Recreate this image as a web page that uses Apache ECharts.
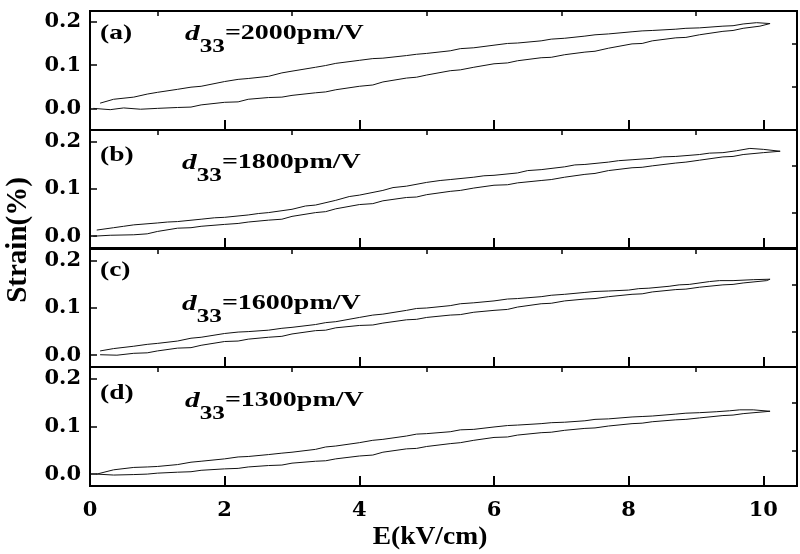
<!DOCTYPE html>
<html>
<head>
<meta charset="utf-8">
<script src="https://cdn.jsdelivr.net/npm/echarts@6/dist/echarts.min.js"></script>
<style>
  html, body { margin: 0; padding: 0; background: #fff; }
  #chart { width: 800px; height: 554px; }
</style>
</head>
<body>
<div id="chart"></div>
<script>
// strain loops, [E (kV/cm), strain (%)], lower branch then upper branch
const loopA = [
  [0.05,0.000],[0.3,-0.003],[0.5,0.001],[0.75,-0.002],[1.0,0.000],[1.3,0.002],[1.5,0.003],[1.65,0.008],[2.0,0.014],[2.2,0.015],
  [2.35,0.021],[2.65,0.025],[2.85,0.026],[3.0,0.030],[3.35,0.036],[3.5,0.038],[3.65,0.043],[4.0,0.051],[4.2,0.054],[4.35,0.061],
  [4.7,0.070],[4.85,0.072],[5.0,0.077],[5.35,0.087],[5.5,0.089],[5.7,0.095],[6.0,0.103],[6.2,0.105],[6.35,0.110],[6.7,0.117],
  [6.85,0.118],[7.05,0.124],[7.35,0.130],[7.5,0.132],[7.7,0.139],[8.05,0.149],[8.2,0.150],[8.35,0.156],[8.7,0.163],[8.85,0.164],
  [9.05,0.170],[9.4,0.178],[9.55,0.180],[9.7,0.185],[9.95,0.190],[10.1,0.196],
  [9.9,0.198],[9.7,0.195],[9.55,0.191],[9.4,0.190],[9.05,0.186],[8.85,0.185],[8.7,0.183],[8.35,0.180],[8.2,0.179],[8.05,0.177],
  [7.7,0.172],[7.5,0.170],[7.35,0.167],[7.05,0.162],[6.85,0.160],[6.7,0.156],[6.35,0.151],[6.2,0.150],[6.0,0.146],[5.7,0.140],
  [5.5,0.138],[5.35,0.133],[5.0,0.127],[4.85,0.125],[4.7,0.122],[4.35,0.116],[4.2,0.115],[4.0,0.111],[3.65,0.104],[3.5,0.099],
  [3.35,0.095],[3.0,0.086],[2.85,0.082],[2.65,0.074],[2.35,0.069],[2.2,0.067],[2.0,0.062],[1.65,0.051],[1.5,0.049],[1.3,0.044],
  [1.0,0.037],[0.85,0.033],[0.65,0.026],[0.35,0.021],[0.15,0.012]
];
const loopB = [
  [0.05,0.000],[0.3,0.002],[0.65,0.003],[0.85,0.005],[1.0,0.010],[1.3,0.017],[1.5,0.018],[1.65,0.021],[2.0,0.025],[2.2,0.027],
  [2.35,0.030],[2.65,0.034],[2.85,0.036],[3.0,0.042],[3.35,0.050],[3.5,0.052],[3.65,0.058],[4.0,0.067],[4.2,0.069],[4.35,0.075],
  [4.7,0.082],[4.85,0.083],[5.0,0.088],[5.35,0.095],[5.5,0.097],[5.7,0.102],[6.0,0.108],[6.2,0.109],[6.35,0.113],[6.7,0.118],
  [6.85,0.120],[7.05,0.125],[7.35,0.131],[7.5,0.133],[7.7,0.139],[8.05,0.145],[8.2,0.146],[8.35,0.149],[8.7,0.155],[8.85,0.157],
  [9.05,0.161],[9.4,0.168],[9.55,0.169],[9.7,0.173],[10.0,0.177],[10.25,0.180],
  [10.0,0.184],[9.8,0.186],[9.6,0.181],[9.4,0.177],[9.2,0.176],[9.05,0.173],[8.7,0.169],[8.5,0.168],[8.35,0.165],[8.05,0.162],
  [7.85,0.160],[7.7,0.157],[7.35,0.152],[7.2,0.151],[7.05,0.147],[6.7,0.141],[6.5,0.139],[6.35,0.134],[6.0,0.129],[5.85,0.128],
  [5.7,0.125],[5.35,0.120],[5.2,0.118],[5.0,0.114],[4.7,0.106],[4.5,0.103],[4.35,0.097],[4.0,0.087],[3.85,0.084],[3.65,0.076],
  [3.35,0.066],[3.2,0.064],[3.0,0.057],[2.65,0.050],[2.5,0.048],[2.35,0.045],[2.0,0.040],[1.85,0.039],[1.65,0.036],[1.3,0.031],
  [1.15,0.030],[1.0,0.028],[0.65,0.024],[0.5,0.021],[0.35,0.018],[0.1,0.013]
];
const loopC = [
  [0.15,0.001],[0.4,0.000],[0.65,0.004],[0.85,0.005],[1.0,0.009],[1.3,0.015],[1.5,0.016],[1.65,0.021],[2.0,0.029],[2.2,0.030],
  [2.35,0.034],[2.65,0.038],[2.85,0.040],[3.0,0.045],[3.35,0.052],[3.5,0.053],[3.65,0.058],[4.0,0.063],[4.2,0.064],[4.35,0.068],
  [4.7,0.075],[4.85,0.076],[5.0,0.080],[5.35,0.085],[5.5,0.086],[5.7,0.091],[6.0,0.095],[6.2,0.097],[6.35,0.102],[6.7,0.109],
  [6.85,0.110],[7.05,0.115],[7.35,0.119],[7.5,0.120],[7.7,0.124],[8.05,0.129],[8.2,0.130],[8.35,0.134],[8.7,0.139],[8.85,0.140],
  [9.05,0.144],[9.4,0.149],[9.55,0.150],[9.7,0.153],[10.05,0.158],[10.1,0.161],
  [9.85,0.160],[9.55,0.158],[9.35,0.158],[9.2,0.156],[8.9,0.150],[8.75,0.149],[8.6,0.146],[8.3,0.142],[8.15,0.141],[8.0,0.138],
  [7.7,0.136],[7.5,0.135],[7.35,0.133],[7.05,0.129],[6.85,0.127],[6.7,0.124],[6.35,0.120],[6.2,0.119],[6.0,0.115],[5.7,0.111],
  [5.5,0.109],[5.35,0.105],[5.0,0.100],[4.85,0.099],[4.7,0.095],[4.35,0.087],[4.2,0.085],[4.0,0.080],[3.65,0.071],[3.5,0.069],
  [3.35,0.065],[3.0,0.059],[2.85,0.057],[2.65,0.053],[2.35,0.050],[2.2,0.049],[2.0,0.046],[1.65,0.038],[1.5,0.036],[1.3,0.030],
  [1.0,0.025],[0.85,0.023],[0.65,0.019],[0.35,0.014],[0.15,0.009]
];
const loopD = [
  [0.1,0.000],[0.35,-0.002],[0.65,-0.001],[0.85,0.000],[1.0,0.002],[1.3,0.004],[1.5,0.005],[1.65,0.008],[2.0,0.011],[2.2,0.012],
  [2.35,0.015],[2.65,0.018],[2.85,0.019],[3.0,0.023],[3.35,0.027],[3.5,0.028],[3.65,0.032],[4.0,0.038],[4.2,0.040],[4.35,0.046],
  [4.7,0.053],[4.85,0.054],[5.0,0.058],[5.35,0.064],[5.5,0.066],[5.7,0.071],[6.0,0.077],[6.2,0.078],[6.35,0.082],[6.7,0.087],
  [6.85,0.088],[7.05,0.092],[7.35,0.096],[7.5,0.097],[7.7,0.101],[8.05,0.106],[8.2,0.107],[8.35,0.110],[8.7,0.114],[8.85,0.115],
  [9.05,0.118],[9.4,0.123],[9.55,0.124],[9.7,0.127],[10.1,0.132],
  [9.85,0.135],[9.65,0.135],[9.5,0.133],[9.3,0.131],[9.05,0.129],[8.85,0.128],[8.7,0.126],[8.35,0.122],[8.2,0.121],[8.05,0.120],
  [7.7,0.116],[7.5,0.115],[7.35,0.112],[7.05,0.109],[6.85,0.108],[6.7,0.106],[6.35,0.103],[6.2,0.102],[6.0,0.099],[5.7,0.094],
  [5.5,0.093],[5.35,0.089],[5.0,0.085],[4.85,0.084],[4.7,0.080],[4.35,0.073],[4.2,0.071],[4.0,0.066],[3.65,0.059],[3.5,0.057],
  [3.35,0.052],[3.0,0.046],[2.85,0.044],[2.65,0.041],[2.35,0.037],[2.2,0.036],[2.0,0.032],[1.65,0.027],[1.5,0.025],[1.3,0.020],
  [1.0,0.016],[0.85,0.015],[0.65,0.014],[0.35,0.009],[0.1,0.000]
];

const panelTags = ['(a)', '(b)', '(c)', '(d)'];
const d33Values = ['2000', '1800', '1600', '1300'];
const yMins = [-0.05, -0.025, -0.025, -0.025];
const yMax = 0.225;
const xMax = 10.5;
const xMajorTicks = [0, 2, 4, 6, 8, 10];
const xMinorTicks = [1, 3, 5, 7, 9];
const yMajorTicks = [0, 0.1, 0.2];
const yMinorTicks = [0.05, 0.15];

const loops = [loopA, loopB, loopC, loopD];

// layout (px)
const panelTop = [11, 130, 249, 367];
const panelH = [119, 118, 118, 119];
const tagY = [22, 144, 259, 382];
const d33Y = [24, 153, 294, 391];
const d33X = [185, 182, 182, 185];

const chart = echarts.init(document.getElementById('chart'));

const serif = '"Liberation Serif", "Times New Roman", serif';
const tickFont = '"DejaVu Serif", serif';

const grids = [], xAxes = [], yAxes = [], series = [], graphics = [];

loops.forEach((loop, i) => {
  const last = i === loops.length - 1;
  grids.push({
    left: 90, right: 3, top: panelTop[i], height: panelH[i],
    show: true, borderColor: '#000', borderWidth: 2
  });
  // x axis: labels + major ticks
  xAxes.push({
    type: 'value', gridIndex: i, min: 0, max: xMax,
    axisLine: { show: true, onZero: false, lineStyle: { color: '#000', width: 2 } },
    axisTick: { show: true, inside: true, length: 10, customValues: xMajorTicks, lineStyle: { color: '#000', width: 2 } },
    axisLabel: {
      show: last, customValues: xMajorTicks, margin: 14,
      color: '#000', fontFamily: tickFont, fontWeight: 'bold', fontSize: 21
    },
    splitLine: { show: false }
  });
  // x axis: minor ticks only
  xAxes.push({
    type: 'value', gridIndex: i, min: 0, max: xMax,
    axisLine: { show: false, onZero: false },
    axisTick: { show: true, inside: true, length: 5, customValues: xMinorTicks, lineStyle: { color: '#000', width: 1.5 } },
    axisLabel: { show: false, customValues: xMinorTicks },
    splitLine: { show: false }
  });
  // y axis: labels + major ticks
  yAxes.push({
    type: 'value', gridIndex: i, min: yMins[i], max: yMax,
    axisLine: { show: true, onZero: false, lineStyle: { color: '#000', width: 2 } },
    axisTick: { show: true, inside: true, length: 7, customValues: yMajorTicks, lineStyle: { color: '#000', width: 1.5 } },
    axisLabel: {
      customValues: yMajorTicks, margin: 9,
      formatter: v => v.toFixed(1),
      color: '#000', fontFamily: tickFont, fontWeight: 'bold', fontSize: 21
    },
    splitLine: { show: false }
  });
  // y axis: minor ticks only
  yAxes.push({
    type: 'value', gridIndex: i, min: yMins[i], max: yMax,
    axisLine: { show: false, onZero: false },
    axisTick: { show: true, inside: true, length: 5, customValues: yMinorTicks, lineStyle: { color: '#000', width: 1.5 } },
    axisLabel: { show: false, customValues: yMinorTicks },
    splitLine: { show: false }
  });
  series.push({
    type: 'line', xAxisIndex: i * 2, yAxisIndex: i * 2,
    data: loop, showSymbol: false,
    lineStyle: { color: '#111', width: 1 }
  });

  graphics.push({
    type: 'text', x: 100, y: tagY[i], scaleX: 1.25,
    style: { text: panelTags[i], font: 'bold 22px ' + serif, fill: '#000', textVerticalAlign: 'top' }
  });
  graphics.push({
    type: 'text', x: d33X[i], y: d33Y[i], scaleX: 1.4,
    style: {
      text: '{d|d}{s|33}{n|=' + d33Values[i] + 'pm/V}',
      fill: '#000',
      rich: {
        d: { fontFamily: serif, fontStyle: 'italic', fontWeight: 'bold', fontSize: 21, lineHeight: 22, verticalAlign: 'top', fill: '#000' },
        s: { fontFamily: serif, fontWeight: 'bold', fontSize: 18, lineHeight: 18, padding: [14, 0, 0, 0], verticalAlign: 'top', fill: '#000' },
        n: { fontFamily: serif, fontWeight: 'bold', fontSize: 20, lineHeight: 22, verticalAlign: 'top', fill: '#000' }
      }
    }
  });
});

graphics.push({
  type: 'text', x: 430, y: 538, scaleX: 1.1,
  style: { text: 'E(kV/cm)', font: 'bold 25px ' + serif, fill: '#000', textAlign: 'center', textVerticalAlign: 'middle' }
});
graphics.push({
  type: 'text', x: 19, y: 240, rotation: Math.PI / 2,
  style: { text: 'Strain(%)', font: 'bold 29px ' + serif, fill: '#000', textAlign: 'center', textVerticalAlign: 'middle' }
});

chart.setOption({
  animation: false,
  grid: grids,
  xAxis: xAxes,
  yAxis: yAxes,
  series: series,
  graphic: graphics
});
</script>
</body>
</html>
